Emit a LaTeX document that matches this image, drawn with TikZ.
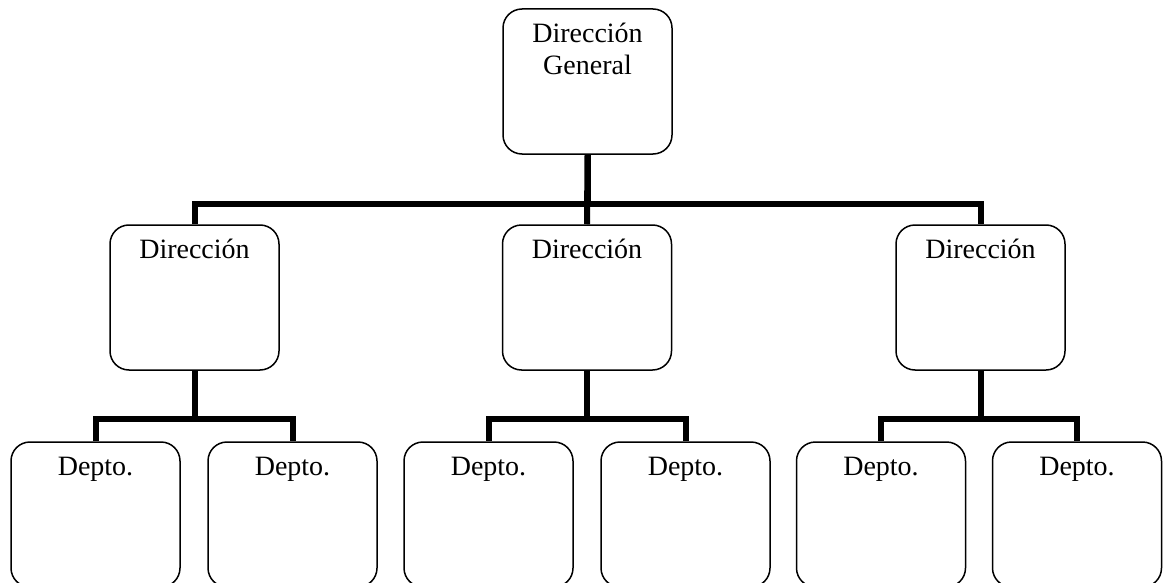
\documentclass[tikz,border=0pt]{standalone}
\usepackage{fontspec}
\setmainfont{Liberation Serif}
\begin{document}
\begin{tikzpicture}[x=1pt,y=-1pt,
  unit/.style={draw, line width=1.5pt, rounded corners=19pt, minimum width=169pt,
    minimum height=145pt, inner sep=0pt, fill=white},
  caption/.style={anchor=base, yshift=-34pt, align=center,
    font=\fontsize{28}{32}\selectfont},
  link/.style={line width=6pt, line join=miter}]
\useasboundingbox (0,0) rectangle (1164,583);
\begin{scope}
\clip (0,0) rectangle (1164,583);
% organisation levels
\node[unit, label={[caption, yshift=-32pt, name=tgl]north:Dirección\\General}] (top) at (587.5,81.5) {};
\node[unit, label={[caption, name=d1l]north:Dirección}] (d1) at (194.5,297.5) {};
\node[unit, label={[caption, name=d2l]north:Dirección}] (d2) at (587,297.5) {};
\node[unit, label={[caption, name=d3l]north:Dirección}] (d3) at (980.5,297.5) {};
\foreach \n/\x in {p1/95.5, p2/292.5, p3/488.5, p4/685.5, p5/881, p6/1077}
  \node[unit, label={[caption, name=\n l]north:Depto.}] (\n) at (\x,514.5) {};
% connectors
\draw[link] (top.south) -- ++(0,49) -| (d1.north);
\draw[link] (top.south) -- ++(0,49) -| (d3.north);
\draw[link] (top.south) -- (d2.north);
\foreach \d/\a/\b in {d1/p1/p2, d2/p3/p4, d3/p5/p6} {
  \draw[link] (\d.south) -- ++(0,48) -| (\a.north);
  \draw[link] (\d.south) -- ++(0,48) -| (\b.north);
}
\end{scope}
\end{tikzpicture}
\end{document}
